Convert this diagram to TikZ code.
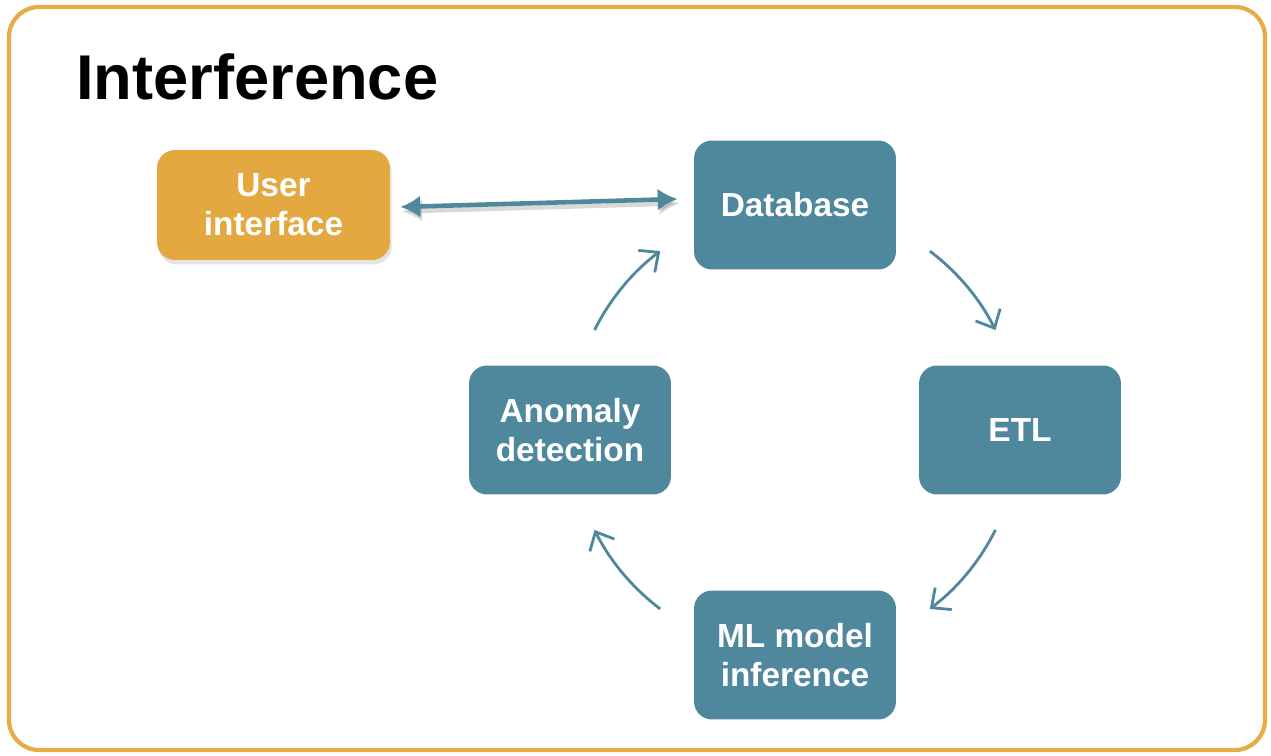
\documentclass[tikz,border=0pt]{standalone}
\usepackage{fontspec}
\setmainfont{Liberation Sans}
\usetikzlibrary{arrows.meta,shadows}
\definecolor{boxteal}{HTML}{4F879D}
\definecolor{boxorange}{HTML}{E3A940}
\definecolor{frameorange}{HTML}{E6AC46}
\tikzset{
  stage/.style={rectangle, rounded corners=0.36cm, fill=boxteal, text=white, align=center,
    font=\fontsize{19}{22}\selectfont\bfseries, minimum width=4.04cm, minimum height=2.58cm},
  cycarrow/.style={draw=boxteal, line width=1.6pt, -{Straight Barb[length=3mm,width=5.5mm]}},
  linkarrow/.style={draw=boxteal, line width=2.6pt, {Latex[length=4mm,width=4.4mm]}-{Latex[length=4mm,width=4.4mm]}},
}
\begin{document}
\begin{tikzpicture}[x=0.02cm, y=0.02cm]
\useasboundingbox (0,0) rectangle (1271,755);
\draw[frameorange, line width=2.4pt, rounded corners=0.6cm] (9,5) rectangle (1265,748);
\node[anchor=base west, font=\fontsize{36}{40}\selectfont\bfseries] (title) at (70,655) {Interference};

% the four stages
\node[stage] (db) at (795,550) {Database};
\node[stage] (etl) at (1020,325) {ETL};
\node[stage] (ml) at (795,100) {ML model\\inference};
\node[stage] (anom) at (570,325) {Anomaly\\detection};
\node[stage, fill=boxorange, minimum width=4.66cm, minimum height=2.2cm,
  drop shadow={shadow xshift=1pt, shadow yshift=-2.5pt, opacity=0.22}] (ui) at (273.5,550) {User\\interface};

% link ui <-> database
\draw[linkarrow, draw=black, opacity=0.15, transform canvas={shift={(1pt,-2.5pt)}}]
  ([xshift=0.2cm,yshift=-0.04cm]ui.east) -- ([xshift=-0.32cm,yshift=0.12cm]db.west);
\draw[linkarrow] ([xshift=0.2cm,yshift=-0.04cm]ui.east) -- ([xshift=-0.32cm,yshift=0.12cm]db.west);

% cycle
\coordinate (mid) at (795,325);
\draw[cycarrow] ([shift={(153.5:224)}]mid) arc[start angle=153.5, end angle=127, radius=224];
\draw[cycarrow] ([shift={(53:224)}]mid) arc[start angle=53, end angle=26.5, radius=224];
\draw[cycarrow] ([shift={(-26.5:224)}]mid) arc[start angle=-26.5, end angle=-53, radius=224];
\draw[cycarrow] ([shift={(-127:224)}]mid) arc[start angle=-127, end angle=-153.5, radius=224];
\end{tikzpicture}
\end{document}
